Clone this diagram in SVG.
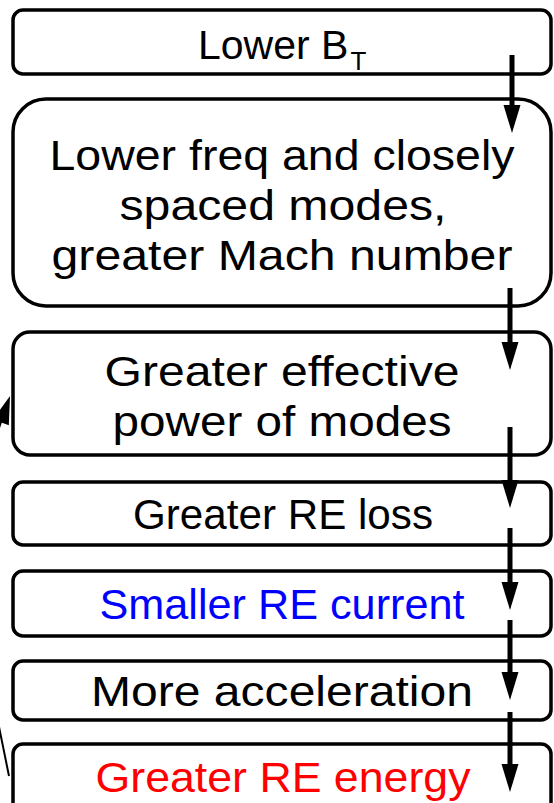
<svg xmlns="http://www.w3.org/2000/svg" width="554" height="803" viewBox="0 0 554 803">
<style>
.box{fill:#fff;stroke:#000;stroke-width:3.5}
.t{font-family:"Liberation Sans","DejaVu Sans",sans-serif;font-size:43px;fill:#000;text-anchor:middle}
.arr{stroke:#000;stroke-width:5;fill:none}
.thin{stroke:#000;stroke-width:2;fill:none}
</style>
<defs>
<marker id="ah" markerUnits="userSpaceOnUse" markerWidth="30" markerHeight="20" refX="0" refY="8.5" orient="auto">
<path d="M0,0 L28,8.5 L0,17 z" fill="#000"/>
</marker>
</defs>
<rect width="554" height="803" fill="#fff"/>
<g id="n1"><rect class="box" x="13" y="10" width="538" height="64" rx="10"/>
<text class="t" x="198" y="59" style="text-anchor:start;font-size:41px">Lower B<tspan dx="2" dy="11" style="font-size:26px">T</tspan></text></g>
<g id="n2"><rect class="box" x="13" y="99" width="538" height="207" rx="33"/>
<text class="t" x="282" y="170" textLength="465" lengthAdjust="spacingAndGlyphs">Lower freq and closely</text>
<text class="t" x="283" y="220" textLength="327" lengthAdjust="spacingAndGlyphs">spaced modes,</text>
<text class="t" x="282" y="270" textLength="461" lengthAdjust="spacingAndGlyphs">greater Mach number</text></g>
<g id="n3"><rect class="box" x="13" y="332" width="538" height="123" rx="17"/>
<text class="t" x="282" y="386" textLength="355" lengthAdjust="spacingAndGlyphs">Greater effective</text>
<text class="t" x="282" y="436" textLength="339" lengthAdjust="spacingAndGlyphs">power of modes</text></g>
<g id="n4"><rect class="box" x="13" y="482" width="538" height="63" rx="10"/>
<text class="t" x="283" y="529" textLength="300" lengthAdjust="spacingAndGlyphs">Greater RE loss</text></g>
<g id="n5"><rect class="box" x="13" y="571" width="538" height="65" rx="10"/>
<text class="t" x="282" y="619" textLength="365" lengthAdjust="spacingAndGlyphs" style="fill:#0000ff">Smaller RE current</text></g>
<g id="n6"><rect class="box" x="13" y="661" width="538" height="59" rx="10"/>
<text class="t" x="282" y="706" textLength="382" lengthAdjust="spacingAndGlyphs">More acceleration</text></g>
<g id="n7"><rect class="box" x="13" y="744" width="538" height="80" rx="10"/>
<text class="t" x="283" y="792" textLength="375" lengthAdjust="spacingAndGlyphs" style="fill:#ff0000">Greater RE energy</text></g>
<g id="connectors">
<line class="arr" x1="512" y1="55" x2="512" y2="105" marker-end="url(#ah)"/>
<line class="arr" x1="510" y1="288" x2="510" y2="342" marker-end="url(#ah)"/>
<line class="arr" x1="510" y1="427" x2="510" y2="480" marker-end="url(#ah)"/>
<line class="arr" x1="510" y1="528" x2="510" y2="582" marker-end="url(#ah)"/>
<line class="arr" x1="510" y1="620" x2="510" y2="672" marker-end="url(#ah)"/>
<line class="arr" x1="510" y1="712" x2="510" y2="764" marker-end="url(#ah)"/>
<line class="thin" x1="9" y1="776" x2="-2" y2="722"/>
<line class="thin" x1="-6" y1="442" x2="1" y2="422"/>
<path d="M10,396 L8.8,425.2 L-7.2,419.6 z" fill="#000"/>
</g>
</svg>
